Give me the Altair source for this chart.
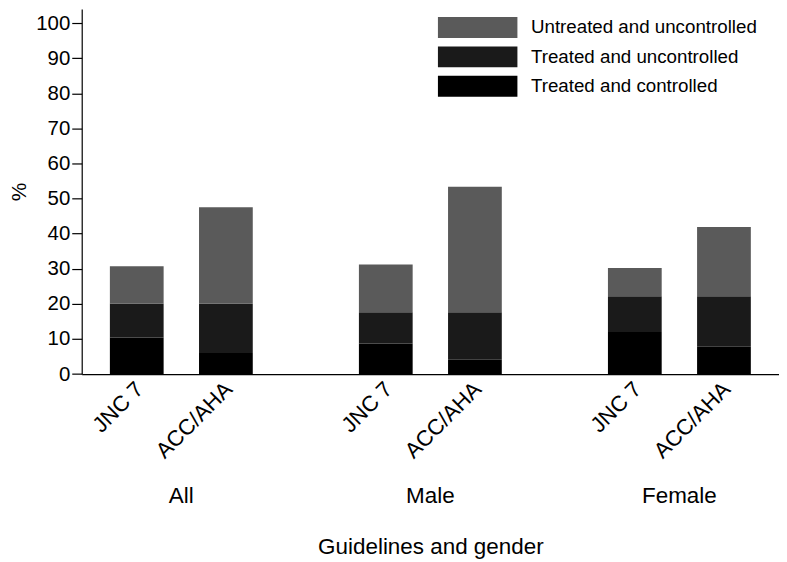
import altair as alt
import pandas as pd

groups = ["All", "Male", "Female"]
guidelines = ["JNC 7", "ACC/AHA"]
statuses = ["Untreated and uncontrolled", "Treated and uncontrolled", "Treated and controlled"]
colors = ["#5a5a5a", "#1a1a1a", "#000000"]

# bar order: All-JNC7, All-ACC/AHA, Male-JNC7, Male-ACC/AHA, Female-JNC7, Female-ACC/AHA
treated_controlled = [10.4, 6.0, 8.7, 4.1, 12.0, 7.8]
treated_uncontrolled = [9.6, 14.0, 8.9, 13.5, 10.2, 14.4]
untreated_uncontrolled = [10.7, 27.5, 13.6, 35.8, 8.0, 19.7]

rows = []
i = 0
for g in groups:
    for gl in guidelines:
        for st, vals, order in [
            ("Treated and controlled", treated_controlled, 0),
            ("Treated and uncontrolled", treated_uncontrolled, 1),
            ("Untreated and uncontrolled", untreated_uncontrolled, 2),
        ]:
            rows.append({"group": g, "guideline": gl, "status": st, "value": vals[i], "ord": order})
        i += 1
df = pd.DataFrame(rows)

FONT = "Liberation Sans"

x_enc = alt.X(
    "group:N",
    sort=groups,
    scale=alt.Scale(paddingInner=0.2, paddingOuter=0.0),
    axis=alt.Axis(
        title="Guidelines and gender",
        labelAngle=0,
        ticks=False,
        tickSize=0,
        labelPadding=129,
        labelBaseline="alphabetic",
        labelFontSize=22.5,
        labelColor="black",
        titleFontSize=22.5,
        titleFontWeight="normal",
        titleColor="black",
        titleY=180.6,
        titleBaseline="alphabetic",
        domainColor="black",
        domainWidth=1.2,
    ),
)
xoff_enc = alt.XOffset(
    "guideline:N",
    sort=guidelines,
    scale=alt.Scale(paddingInner=0.397, paddingOuter=0.316),
)

bars = alt.Chart(df).mark_bar().encode(
    x=x_enc,
    xOffset=xoff_enc,
    y=alt.Y(
        "value:Q",
        stack="zero",
        scale=alt.Scale(domain=[0, 104], nice=False),
        axis=alt.Axis(
            title="%",
            values=list(range(0, 101, 10)),
            tickSize=10,
            labelPadding=2,
            labelFontSize=20.5,
            labelColor="black",
            titleFontSize=21,
            titleFontWeight="normal",
            titleColor="black",
            titlePadding=6,
            grid=False,
            domainColor="black",
            domainWidth=1.2,
            tickColor="black",
            tickWidth=1.2,
        ),
    ),
    color=alt.Color(
        "status:N",
        scale=alt.Scale(domain=statuses, range=colors),
        legend=alt.Legend(
            title=None,
            orient="none",
            legendX=359,
            legendY=8,
            symbolType="M-3.8,-1H3.8V1H-3.8Z",
            symbolSize=441,
            symbolStrokeWidth=0,
            symbolOpacity=1,
            symbolOffset=28,
            labelOffset=43,
            labelFontSize=18.8,
            labelColor="black",
            labelLimit=400,
            rowPadding=8.5,
            padding=0,
        ),
    ),
    order=alt.Order("ord:Q", sort="ascending"),
)

labels = alt.Chart(df).transform_filter(
    alt.datum.ord == 0
).mark_text(
    angle=315, align="right", baseline="middle", fontSize=22, dx=4, color="black", font=FONT
).encode(
    x=x_enc,
    xOffset=xoff_enc,
    y=alt.value(381),
    text="guideline:N",
)

chart = alt.layer(bars, labels).properties(
    width=700, height=366.4, padding=0
).configure(font=FONT).configure_view(stroke=None)

chart.save("out.html", embed_options={"renderer": "svg", "actions": False})
